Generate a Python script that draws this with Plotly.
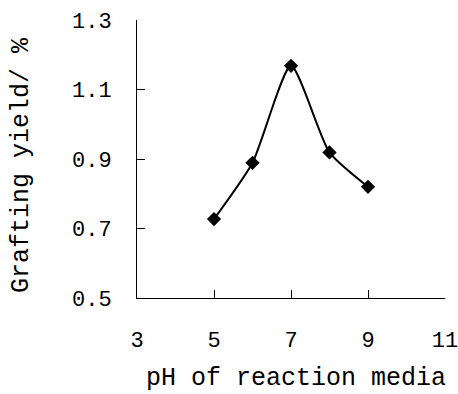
import plotly.graph_objects as go

ph = [5, 6, 7, 8, 9]
yield_pct = [0.727, 0.889, 1.168, 0.919, 0.820]
x_ticks = [3, 5, 7, 9, 11]
y_ticks = [0.5, 0.7, 0.9, 1.1, 1.3]
y_ticklabels = ["0.5", "0.7", "0.9", "1.1", "1.3"]

FONT = "Liberation Mono"

fig = go.Figure()
fig.add_trace(go.Scatter(
    x=ph, y=yield_pct, mode="lines+markers",
    line=dict(color="black", width=2, shape="spline", smoothing=0.6),
    marker=dict(symbol="diamond", size=11, color="black"),
    showlegend=False,
))

fig.update_layout(
    template="none",
    width=458, height=394,
    margin=dict(l=137, r=13, t=20, b=96, autoexpand=False),
    paper_bgcolor="white", plot_bgcolor="white",
    font=dict(family=FONT, color="black", size=22),
    xaxis=dict(range=[3, 11], tickvals=x_ticks, ticks="inside", ticklen=8,
               tickcolor="black", showline=True, linecolor="black", linewidth=1,
               showgrid=False, zeroline=False, ticklabelstandoff=22,
               ticklabeloverflow="allow", automargin=False,
               tickfont=dict(family=FONT, size=22, color="black")),
    yaxis=dict(range=[0.5, 1.3], tickvals=y_ticks, ticktext=y_ticklabels,
               ticks="inside", ticklen=8, tickcolor="black", showline=True,
               linecolor="black", linewidth=1, showgrid=False, zeroline=False,
               ticklabelstandoff=20, ticklabeloverflow="allow", automargin=False,
               tickfont=dict(family=FONT, size=22, color="black")),
    annotations=[
        dict(text="pH of reaction media", xref="paper", yref="paper",
             x=(296 - 137) / 308, y=-(378 - 298) / 278, xanchor="center", yanchor="middle",
             showarrow=False, font=dict(family=FONT, size=25, color="black")),
        dict(text="Grafting yield/ %", xref="paper", yref="paper",
             x=-(137 - 21) / 308, y=(298 - 165) / 278, xanchor="center", yanchor="middle",
             textangle=-90, showarrow=False, font=dict(family=FONT, size=25, color="black")),
    ],
)

fig.write_html("out.html")
